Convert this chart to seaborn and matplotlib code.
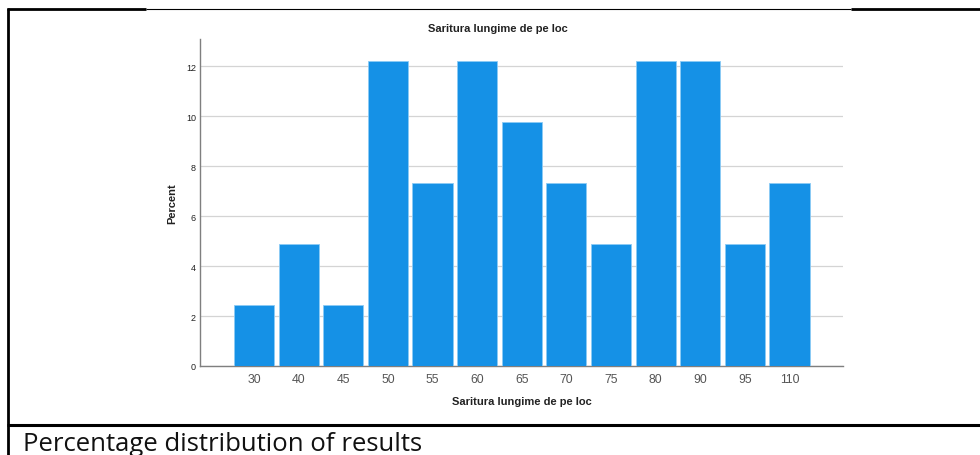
import matplotlib
matplotlib.use("Agg")
import matplotlib.pyplot as plt
import seaborn as sns
import pandas as pd
from matplotlib.lines import Line2D

# ── Data ───────────────────────────────────────────────────────────────────
categories = ["30", "40", "45", "50", "55", "60", "65", "70", "75", "80", "90", "95", "110"]
percent    = [2.44, 4.88, 2.44, 12.20, 7.32, 12.20, 9.76, 7.32, 4.88, 12.20, 12.20, 4.88, 7.32]
y_ticks    = [0, 2, 4, 6, 8, 10, 12]

TITLE   = "Saritura lungime de pe loc"
CAPTION = "Percentage distribution of results"
BAR_COLOR = "#1591e6"

df = pd.DataFrame({"value": categories, "percent": percent})

sns.set_theme(style="white")
plt.rcParams["font.family"] = ["Liberation Sans", "DejaVu Sans"]

fig = plt.figure(figsize=(9.8, 4.56), dpi=100)
ax = fig.add_axes([200 / 980, 1 - 367 / 456, 643 / 980, 327 / 456])

sns.barplot(data=df, x="value", y="percent", order=categories, color=BAR_COLOR,
            width=0.9, saturation=1, edgecolor="#8ccbf5", linewidth=0.6, ax=ax, zorder=3)

ax.set_xlim(-1.21, 13.2)
ax.set_ylim(0, 13.1)
ax.set_yticks(y_ticks)
ax.yaxis.grid(True, color="#d4d4d4", linewidth=0.9, zorder=0)
ax.set_axisbelow(True)

for side in ("top", "right"):
    ax.spines[side].set_visible(False)
for side in ("left", "bottom"):
    ax.spines[side].set_color("#7f7f7f")
    ax.spines[side].set_linewidth(1.0)

ax.tick_params(axis="y", length=0, labelsize=6.5, labelcolor="#222222", pad=3)
ax.tick_params(axis="x", length=0, labelsize=8.8, labelcolor="#555555", pad=5)

ax.set_xlabel(TITLE, fontsize=8, fontweight="bold", color="#222222", labelpad=8)
ax.set_ylabel("Percent", fontsize=8, fontweight="bold", color="#222222", labelpad=6)

fig.text(498 / 980, 1 - 29 / 456, TITLE, ha="center", va="center",
         fontsize=8, fontweight="bold", color="#222222")

# ── Table-cell borders around the pasted chart ─────────────────────────────
def hline(x0, x1, y, lw):
    fig.add_artist(Line2D([x0 / 980, x1 / 980], [1 - y / 456, 1 - y / 456],
                          color="black", linewidth=lw, solid_capstyle="butt"))

hline(7, 146, 10, 2.0)
hline(146, 851, 9.5, 0.8)
hline(851, 980, 10, 2.0)
hline(7, 980, 425.5, 2.2)
fig.add_artist(Line2D([8 / 980, 8 / 980], [1 - 9 / 456, 0],
                      color="black", linewidth=2.0, solid_capstyle="butt"))

fig.text(23 / 980, 1 - 451.5 / 456, CAPTION, ha="left", va="baseline",
         fontsize=18.5, color="#111111", family=["Open Sans", "DejaVu Sans"])

fig.savefig("out.png", dpi=100)
